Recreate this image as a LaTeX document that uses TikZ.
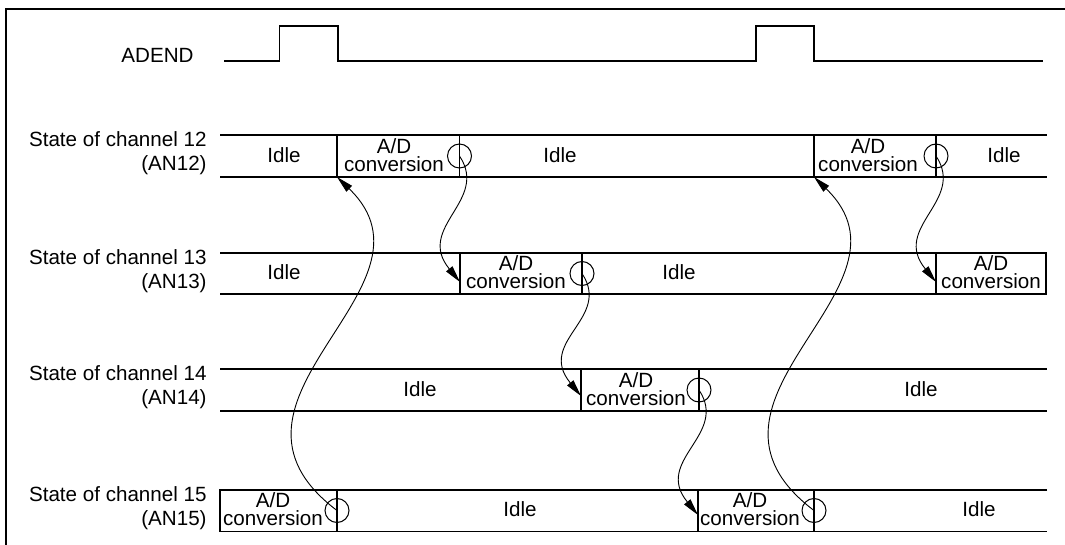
\documentclass[tikz,border=0pt]{standalone}
\usepackage{fontspec}
\setmainfont{Liberation Sans}
\usetikzlibrary{arrows.meta}
\begin{document}
\begin{tikzpicture}[x=0.5pt, y=-0.5pt, >={Triangle[length=8.5pt, width=4pt]},
    txt/.style={font=\fontsize{10.3}{12}\selectfont, inner sep=0pt},
    adc/.style={font=\fontsize{10.3}{9}\selectfont, align=center, inner sep=0pt, anchor=south},
    band/.style={line width=0.65pt},
    ring/.style={circle, draw, line width=0.5pt, minimum size=12pt, inner sep=0pt},
    hop/.style={->, line width=0.45pt}]
    \useasboundingbox (0,0) rectangle (1065,545);

    % 枠
    \draw[line width=1pt] (6,545) -- (6,9) -- (1065,9);

    % ADEND
    \node[txt, anchor=base east] (adend) at (194,63) {ADEND};
    \draw[band] (224,61) -- (279.5,61) -- (279.5,26) -- (338,26) -- (338,61) -- (756,61)
        -- (756,26) -- (814,26) -- (814,61) -- (1043,61);

    % チャネル12
    \node[txt, align=right, anchor=east] (ch12) at (207,153) {State of channel 12\\(AN12)};
    \draw[band] (220,135) -- (1047,135) (220,177) -- (1047,177);
    \draw[band] (337,135) -- (337,177) (459.5,135) -- (459.5,177) (814,135) -- (814,177) (936,135) -- (936,177);
    \node[txt] (idle12a) at (284,155) {Idle};
    \node[adc] (ad12a) at (394,172) {A/D\\conversion};
    \node[txt] (idle12b) at (560,155) {Idle};
    \node[adc] (ad12b) at (868,172) {A/D\\conversion};
    \node[txt] (idle12c) at (1004,155) {Idle};
    \node[ring] (o12a) at (459.5,156) {};
    \node[ring] (o12b) at (936,156) {};
    \coordinate (t12a) at (337,177);
    \coordinate (t12b) at (814,177);

    % チャネル13
    \node[txt, align=right, anchor=east] (ch13) at (207,271) {State of channel 13\\(AN13)};
    \draw[band] (220,253) -- (1046,253) -- (1046,294) -- (220,294);
    \draw[band] (460,253) -- (460,294) (582,253) -- (582,294) (936,253) -- (936,294);
    \node[txt] (idle13a) at (284,272.5) {Idle};
    \node[adc] (ad13a) at (516,289) {A/D\\conversion};
    \node[txt] (idle13b) at (679,272.5) {Idle};
    \node[adc] (ad13b) at (991,289) {A/D\\conversion};
    \node[ring] (o13a) at (582,273.5) {};
    \coordinate (t13a) at (460,282);
    \coordinate (t13b) at (936,282);

    % チャネル14
    \node[txt, align=right, anchor=east] (ch14) at (207,387) {State of channel 14\\(AN14)};
    \draw[band] (220,369) -- (1047,369) (220,411) -- (1047,411);
    \draw[band] (581,369) -- (581,411) (699,369) -- (699,411);
    \node[txt] (idle14a) at (420,389) {Idle};
    \node[adc] (ad14a) at (636,406) {A/D\\conversion};
    \node[txt] (idle14b) at (921,389) {Idle};
    \node[ring] (o14a) at (699,390) {};
    \coordinate (t14a) at (581,396);

    % チャネル15
    \node[txt, align=right, anchor=east] (ch15) at (207,508) {State of channel 15\\(AN15)};
    \draw[band] (1047,490) -- (220,490) -- (220,531.5) -- (1047,531.5);
    \draw[band] (337,490) -- (337,531.5) (698,490) -- (698,531.5) (814,490) -- (814,531.5);
    \node[adc] (ad15a) at (273,526.5) {A/D\\conversion};
    \node[txt] (idle15a) at (520,509.5) {Idle};
    \node[adc] (ad15b) at (750,526.5) {A/D\\conversion};
    \node[txt] (idle15b) at (979,509.5) {Idle};
    \node[ring] (o15a) at (337,510.5) {};
    \node[ring] (o15b) at (814,510.5) {};
    \coordinate (t15a) at (698,515);

    % 矢印
    \draw[hop] (o15a.center) .. controls +(-147,-111) and +(115,111) .. (t12a);
    \draw[hop] (o15b.center) .. controls +(-147,-111) and +(115,111) .. (t12b);
    \draw[hop] (o12a.center) .. controls +(30,45) and +(-45,-55) .. (t13a);
    \draw[hop] (o13a.center) .. controls +(30,45) and +(-45,-55) .. (t14a);
    \draw[hop] (o14a.center) .. controls +(30,45) and +(-45,-55) .. (t15a);
    \draw[hop] (o12b.center) .. controls +(30,45) and +(-45,-55) .. (t13b);
\end{tikzpicture}
\end{document}
